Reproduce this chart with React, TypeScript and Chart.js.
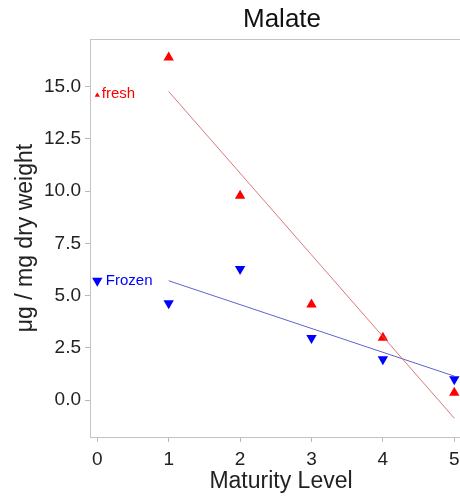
import React, { useEffect, useRef } from 'react';
import { Chart, registerables } from 'chart.js';

Chart.register(...registerables);

const chartTitle = 'Malate';
const xTitle = 'Maturity Level';
const yTitle = 'μg / mg dry weight';

const maturity = [1, 2, 3, 4, 5];
const freshValues = [16.39, 9.77, 4.58, 2.98, 0.35];
const frozenValues = [4.63, 6.27, 2.97, 1.96, 1.0];

const fitX = [1, 5];
const freshFit = [14.76, -0.86];
const frozenFit = [5.71, 1.15];

const labelX = [0];
const freshLabelY = [14.58];
const frozenLabelY = [5.71];
const freshLabel = 'fresh';
const frozenLabel = 'Frozen';

const xTicks = [0, 1, 2, 3, 4, 5];
const yTicks = [0, 2.5, 5, 7.5, 10, 12.5, 15];

const RED = '#ff0000';
const BLUE = '#0000ff';
const FONT = '"Liberation Sans", Arial, sans-serif';

const pts = (xs: number[], ys: number[]) => xs.map((x, i) => ({ x, y: ys[i] }));

export default function App() {
  const ref = useRef<HTMLCanvasElement | null>(null);

  useEffect(() => {
    if (!ref.current) return;

    const decor = {
      id: 'decor',
      afterDatasetsDraw(chart: any) {
        const { ctx, chartArea } = chart;
        ctx.save();
        // top border
        ctx.strokeStyle = '#c4c4c4';
        ctx.lineWidth = 1;
        ctx.beginPath();
        ctx.moveTo(chartArea.left, chartArea.top + 0.5);
        ctx.lineTo(chartArea.right, chartArea.top + 0.5);
        ctx.stroke();
        // title
        ctx.fillStyle = '#111';
        ctx.font = `26px ${FONT}`;
        ctx.textAlign = 'center';
        ctx.textBaseline = 'middle';
        ctx.fillText(chartTitle, 282, 20);
        // x axis title
        ctx.fillStyle = '#222';
        ctx.font = `23px ${FONT}`;
        ctx.fillText(xTitle, 281, 482);
        // in-plot labels
        ctx.font = `15px ${FONT}`;
        ctx.textAlign = 'left';
        const fm = chart.getDatasetMeta(4).data[0];
        if (fm) {
          ctx.fillStyle = RED;
          ctx.fillText(freshLabel, fm.x + 4.5, fm.y - 1.5);
        }
        const zm = chart.getDatasetMeta(5).data[0];
        if (zm) {
          ctx.fillStyle = BLUE;
          ctx.fillText(frozenLabel, zm.x + 8.5, zm.y);
        }
        ctx.restore();
      },
    };

    const chart = new Chart(ref.current, {
      type: 'scatter',
      data: {
        datasets: [
          {
            label: 'fresh fit',
            data: pts(fitX, freshFit),
            showLine: true,
            borderColor: 'rgba(215,95,95,0.85)',
            borderWidth: 1,
            pointRadius: 0,
          },
          {
            label: 'frozen fit',
            data: pts(fitX, frozenFit),
            showLine: true,
            borderColor: 'rgba(80,80,205,0.9)',
            borderWidth: 1,
            pointRadius: 0,
          },
          {
            label: 'fresh',
            data: pts(maturity, freshValues),
            pointStyle: 'triangle',
            pointRadius: 6,
            backgroundColor: RED,
            borderColor: RED,
            borderWidth: 0,
            clip: false,
          },
          {
            label: 'Frozen',
            data: pts(maturity, frozenValues),
            pointStyle: 'triangle',
            rotation: 180,
            pointRadius: 6,
            backgroundColor: BLUE,
            borderColor: BLUE,
            borderWidth: 0,
            clip: false,
          },
          {
            label: 'fresh label',
            data: pts(labelX, freshLabelY),
            pointStyle: 'triangle',
            pointRadius: 3,
            backgroundColor: RED,
            borderColor: RED,
            borderWidth: 0,
            clip: false,
          },
          {
            label: 'Frozen label',
            data: pts(labelX, frozenLabelY),
            pointStyle: 'triangle',
            rotation: 180,
            pointRadius: 6,
            backgroundColor: BLUE,
            borderColor: BLUE,
            borderWidth: 0,
            clip: false,
          },
        ],
      },
      options: {
        responsive: false,
        animation: false,
        layout: { autoPadding: false, padding: { top: 39, right: 0, left: 0, bottom: 0 } },
        plugins: {
          legend: { display: false },
          tooltip: { enabled: false },
          title: { display: false },
        },
        scales: {
          x: {
            type: 'linear',
            min: -0.102,
            max: 5.08,
            afterBuildTicks: (s: any) => {
              s.ticks = xTicks.map((v) => ({ value: v }));
            },
            afterFit: (s: any) => {
              s.height = 59;
              s.paddingLeft = 0;
              s.paddingRight = 0;
            },
            ticks: {
              font: { family: FONT, size: 19 },
              color: '#222',
              padding: 6,
              callback: (v: any) => String(v),
            },
            grid: {
              display: true,
              drawOnChartArea: false,
              drawTicks: true,
              tickLength: 5,
              color: '#b8b8b8',
            },
            border: { color: '#c4c4c4' },
            title: { display: false },
          },
          y: {
            type: 'linear',
            min: -1.76,
            max: 17.27,
            afterBuildTicks: (s: any) => {
              s.ticks = yTicks.map((v) => ({ value: v }));
            },
            afterFit: (s: any) => {
              s.width = 90;
              s.paddingTop = 0;
              s.paddingBottom = 0;
            },
            ticks: {
              font: { family: FONT, size: 19 },
              color: '#222',
              padding: 4,
              callback: (v: any) => Number(v).toFixed(1),
            },
            grid: {
              display: true,
              drawOnChartArea: false,
              drawTicks: true,
              tickLength: 5,
              color: '#b8b8b8',
            },
            border: { color: '#c4c4c4' },
            title: {
              display: true,
              text: yTitle,
              color: '#222',
              font: { family: FONT, size: 23 },
              padding: { top: 12, bottom: 0 },
            },
          },
        },
      },
      plugins: [decor],
    } as any);

    return () => chart.destroy();
  }, []);

  return (
    <div style={{ position: 'absolute', left: 0, top: 0, width: 460, height: 496 }}>
      <canvas ref={ref} width={460} height={496} style={{ display: 'block', width: 460, height: 496 }} />
    </div>
  );
}
